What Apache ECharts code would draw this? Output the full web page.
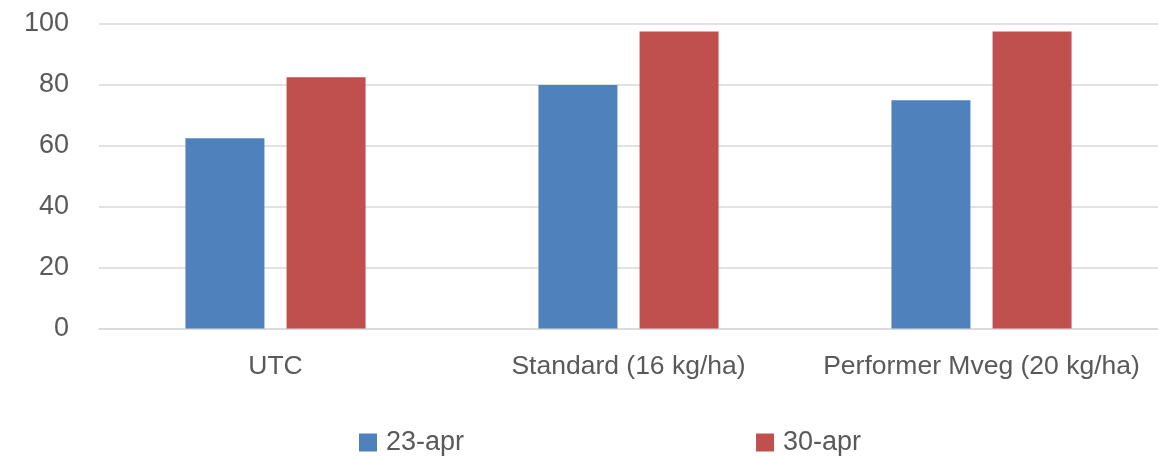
<!DOCTYPE html>
<html>
<head>
<meta charset="utf-8">
<script src="https://cdn.jsdelivr.net/npm/echarts@6/dist/echarts.min.js"></script>
<style>html,body{margin:0;padding:0;background:#fff;}#c{width:1158px;height:456px;}</style>
</head>
<body>
<div id="c"></div>
<script>
const categories = ['UTC', 'Standard (16 kg/ha)', 'Performer Mveg (20 kg/ha)'];
const seriesNames = ['23-apr', '30-apr'];
const apr23 = [62.5, 80, 75];
const apr30 = [82.5, 97.5, 97.5];
const yTicks = { min: 0, max: 100, interval: 20 };

const font = '"Liberation Sans", Arial, sans-serif';
const chart = echarts.init(document.getElementById('c'), null, { renderer: 'canvas' });
chart.setOption({
  animation: false,
  backgroundColor: '#fff',
  textStyle: { fontFamily: font },
  grid: { left: 99, right: 0, top: 24, bottom: 127.5, containLabel: false },
  legend: {
    left: 359, top: 429, padding: 0,
    itemWidth: 18, itemHeight: 18, itemGap: 292,
    icon: 'rect',
    textStyle: { fontSize: 27, color: '#595959', fontFamily: font, padding: [0, 0, 0, 4] },
    data: seriesNames
  },
  xAxis: {
    type: 'category',
    data: categories,
    axisLine: { lineStyle: { color: '#d9d9d9', width: 1.5 } },
    axisTick: { show: false },
    axisLabel: { interval: 0, fontSize: 26.5, color: '#595959', margin: 25, fontFamily: font }
  },
  yAxis: {
    type: 'value',
    min: yTicks.min, max: yTicks.max, interval: yTicks.interval,
    axisLine: { show: false },
    axisTick: { show: false },
    axisLabel: { fontSize: 27, color: '#595959', margin: 30, fontFamily: font },
    splitLine: { lineStyle: { color: '#d9d9d9', width: 1.5 } }
  },
  series: [
    { name: seriesNames[0], type: 'bar', data: apr23, barWidth: 79, barGap: '28%', itemStyle: { color: '#4F81BD' } },
    { name: seriesNames[1], type: 'bar', data: apr30, barWidth: 79, barGap: '28%', itemStyle: { color: '#C0504D' } }
  ]
});
</script>
</body>
</html>
